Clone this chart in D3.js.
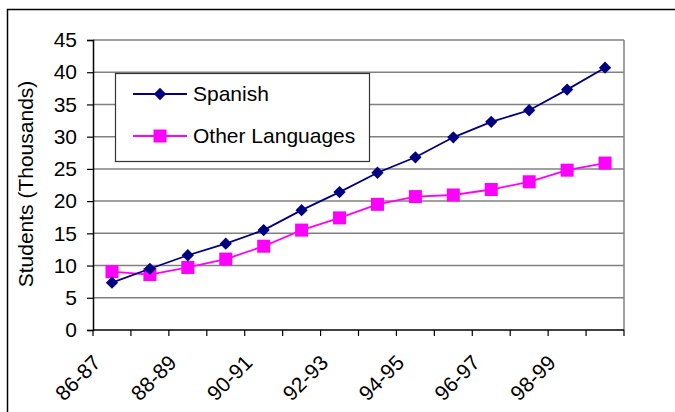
<!DOCTYPE html>
<html><head><meta charset="utf-8">
<script src="https://cdn.jsdelivr.net/npm/d3@7"></script>
<style>body{margin:0;background:#fff}svg{display:block}text{font-family:"Liberation Sans",Arial,sans-serif;fill:#000}</style>
</head><body>
<svg id="c" width="675" height="412"></svg>
<script>
const categories = ["86-87","87-88","88-89","89-90","90-91","91-92","92-93","93-94","94-95","95-96","96-97","97-98","98-99","99-00"];
const spanish = [7.35,9.5,11.6,13.4,15.5,18.6,21.4,24.4,26.8,29.9,32.3,34.1,37.3,40.7];
const otherLanguages = [9.05,8.6,9.7,11.0,13.0,15.5,17.4,19.5,20.7,20.95,21.8,23.0,24.8,25.9];
const yTicks = [0,5,10,15,20,25,30,35,40,45];
const xLabels = ["86-87","88-89","90-91","92-93","94-95","96-97","98-99"];
const seriesNames = ["Spanish","Other Languages"];

const svg = d3.select("#c");
const FS = 21;
const m = {left:93, right:624, top:40, bottom:330};

// outer frame
svg.append("rect").attr("x",7.5).attr("y",9.5).attr("width",720).attr("height",500)
  .attr("fill","none").attr("stroke","#000").attr("stroke-width",1.5);

const x = d3.scaleBand().domain(categories).range([m.left,m.right]).padding(0);
const y = d3.scaleLinear().domain([0,45]).range([m.bottom,m.top]);

// gridlines
svg.append("g").selectAll("line").data(yTicks.filter(d=>d>0)).join("line")
  .attr("x1",m.left).attr("x2",m.right)
  .attr("y1",d=>y(d)).attr("y2",d=>y(d))
  .attr("stroke","#808080").attr("stroke-width",1.5);
// right border
svg.append("line").attr("x1",m.right).attr("x2",m.right).attr("y1",m.top).attr("y2",m.bottom)
  .attr("stroke","#808080").attr("stroke-width",1.5);

// y axis
const yAxis = d3.axisLeft(y).tickValues(yTicks).tickSize(6).tickPadding(10);
const gy = svg.append("g").attr("transform",`translate(${m.left},0)`).call(yAxis);
gy.select(".domain").attr("stroke","#000").attr("stroke-width",1.5);
gy.selectAll(".tick line").attr("stroke","#000").attr("stroke-width",1.2);
gy.selectAll("text").attr("font-size",FS).attr("font-family","Liberation Sans, Arial, sans-serif").attr("fill","#000");

// x axis: ticks at band boundaries
const bounds = categories.map(c=>x(c)).concat([m.right]);
svg.append("line").attr("x1",m.left).attr("x2",m.right).attr("y1",m.bottom).attr("y2",m.bottom)
  .attr("stroke","#000").attr("stroke-width",1.5);
svg.append("g").selectAll("line").data(bounds).join("line")
  .attr("x1",d=>d).attr("x2",d=>d).attr("y1",m.bottom).attr("y2",m.bottom+6)
  .attr("stroke","#000").attr("stroke-width",1.2);
svg.append("g").selectAll("text").data(xLabels).join("text")
  .attr("transform",d=>`translate(${x(d)+x.bandwidth()/2-10},364) rotate(-45)`)
  .attr("text-anchor","end").attr("font-size",FS).text(d=>d);

// axis title
svg.append("text").attr("transform",`translate(33,${(m.top+m.bottom)/2-1}) rotate(-90)`)
  .attr("text-anchor","middle").attr("font-size",FS).text("Students (Thousands)");

const cx = d=>x(d)+x.bandwidth()/2;
const line = d3.line().x((d,i)=>cx(categories[i])).y(d=>y(d));

// other languages
svg.append("path").datum(otherLanguages).attr("d",line).attr("fill","none")
  .attr("stroke","#FF00FF").attr("stroke-width",1.8);
svg.append("g").selectAll("rect").data(otherLanguages).join("rect")
  .attr("x",(d,i)=>cx(categories[i])-6.5).attr("y",d=>y(d)-6.5)
  .attr("width",13).attr("height",13).attr("fill","#FF00FF");

// spanish
svg.append("path").datum(spanish).attr("d",line).attr("fill","none")
  .attr("stroke","#000080").attr("stroke-width",1.8);
const diamond = d3.symbol().type(d3.symbolDiamond2).size(96);
svg.append("g").selectAll("path").data(spanish).join("path")
  .attr("transform",(d,i)=>`translate(${cx(categories[i])},${y(d)})`)
  .attr("d",diamond).attr("fill","#000080");

// legend
const lg = svg.append("g");
lg.append("rect").attr("x",115.5).attr("y",73.5).attr("width",254).attr("height",88)
  .attr("fill","#fff").attr("stroke","#333").attr("stroke-width",1.2);
const ly = [94,136];
const colors = ["#000080","#FF00FF"];
seriesNames.forEach((n,i)=>{
  lg.append("line").attr("x1",133).attr("x2",187).attr("y1",ly[i]).attr("y2",ly[i])
    .attr("stroke",colors[i]).attr("stroke-width",1.8);
  if(i===0){
    lg.append("path").attr("transform",`translate(160,${ly[i]})`).attr("d",diamond).attr("fill",colors[i]);
  } else {
    lg.append("rect").attr("x",153.5).attr("y",ly[i]-6.5).attr("width",13).attr("height",13).attr("fill",colors[i]);
  }
  lg.append("text").attr("x",193).attr("y",ly[i]).attr("dy","0.35em").attr("font-size",FS).text(n);
});
</script>
</body></html>
